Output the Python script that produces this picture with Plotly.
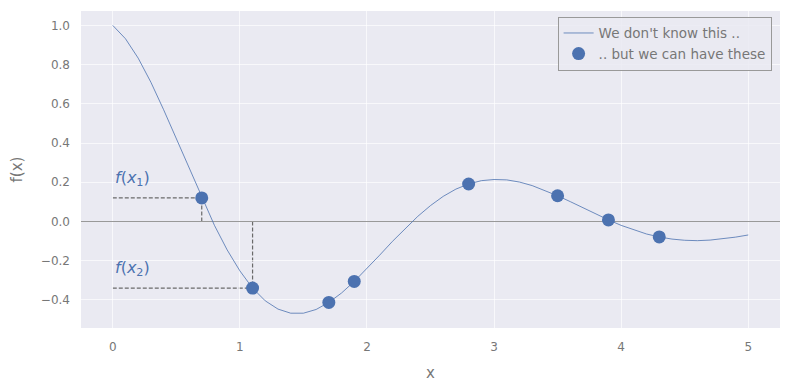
import plotly.graph_objects as go

# Curve values (step 0.1)
curve_x = [round(i * 0.1, 1) for i in range(51)]
curve_y = [1.000, 0.932, 0.833, 0.710, 0.570, 0.421, 0.269, 0.120, -0.020, -0.145,
           -0.252, -0.340, -0.405, -0.447, -0.468, -0.468, -0.449, -0.413, -0.365, -0.306,
           -0.241, -0.172, -0.102, -0.036, 0.026, 0.081, 0.128, 0.165, 0.191, 0.208,
           0.214, 0.212, 0.201, 0.183, 0.159, 0.131, 0.101, 0.069, 0.038, 0.008,
           -0.020, -0.044, -0.064, -0.079, -0.090, -0.096, -0.098, -0.095, -0.089, -0.080,
           -0.069]

# Sampled points
sample_x = [0.7, 1.1, 1.7, 1.9, 2.8, 3.5, 3.9, 4.3]
sample_y = [0.120, -0.340, -0.413, -0.306, 0.191, 0.131, 0.008, -0.079]

labels = ["<i>f</i>(<i>x</i><sub>1</sub>)", "<i>f</i>(<i>x</i><sub>2</sub>)"]

BLUE = "#4C72B0"
FONT = "DejaVu Sans"
GRID = "rgba(255,255,255,0.65)"

fig = go.Figure()
fig.add_trace(go.Scatter(x=curve_x, y=curve_y, mode="lines",
                         line=dict(color=BLUE, width=0.8),
                         name="We don't know this .."))
fig.add_trace(go.Scatter(x=sample_x, y=sample_y, mode="markers",
                         marker=dict(color=BLUE, size=13, line=dict(width=0)),
                         name=".. but we can have these"))

shapes = []
annotations = []
for i in range(2):
    xi, yi = sample_x[i], sample_y[i]
    shapes.append(dict(type="line", xref="x", yref="y", x0=0, x1=xi, y0=yi, y1=yi,
                       line=dict(color="#6a6a6a", width=1.2, dash="4px,2px"), layer="below"))
    shapes.append(dict(type="line", xref="x", yref="y", x0=xi, x1=xi, y0=0, y1=yi,
                       line=dict(color="#6a6a6a", width=1.2, dash="4px,2px"), layer="below"))
    annotations.append(dict(x=0, y=yi + 0.1, xref="x", yref="y", text=labels[i],
                            showarrow=False, xanchor="left", yanchor="middle",
                            font=dict(family=FONT, size=16, color=BLUE)))

fig.update_layout(
    width=790, height=390,
    margin=dict(l=81, r=10, t=11, b=62),
    paper_bgcolor="white", plot_bgcolor="#EAEAF2",
    font=dict(family=FONT, size=12, color="#777777"),
    shapes=shapes, annotations=annotations,
    showlegend=True,
    legend=dict(x=0.988, y=0.982, xanchor="right", yanchor="top",
                bgcolor="rgba(234,234,242,0.85)", bordercolor="#999999", borderwidth=1,
                font=dict(family=FONT, size=13.5, color="#777777"),
                tracegroupgap=0, itemwidth=30),
    xaxis=dict(range=[-0.25, 5.25], tickvals=[0, 1, 2, 3, 4, 5],
               showgrid=True, gridcolor=GRID, gridwidth=1, zeroline=False,
               showline=False, ticks="", ticklabelstandoff=10,
               title=dict(text="x", font=dict(family=FONT, size=15, color="#777777"), standoff=14)),
    yaxis=dict(range=[-0.5435, 1.0735], tickvals=[-0.4, -0.2, 0, 0.2, 0.4, 0.6, 0.8, 1.0],
               tickformat=".1f",
               showgrid=True, gridcolor=GRID, gridwidth=1,
               zeroline=True, zerolinecolor="#999999", zerolinewidth=1,
               showline=False, ticks="", ticklabelstandoff=10,
               title=dict(text="f(x)", font=dict(family=FONT, size=15, color="#777777"), standoff=14)),
)

fig.write_html("out.html")
